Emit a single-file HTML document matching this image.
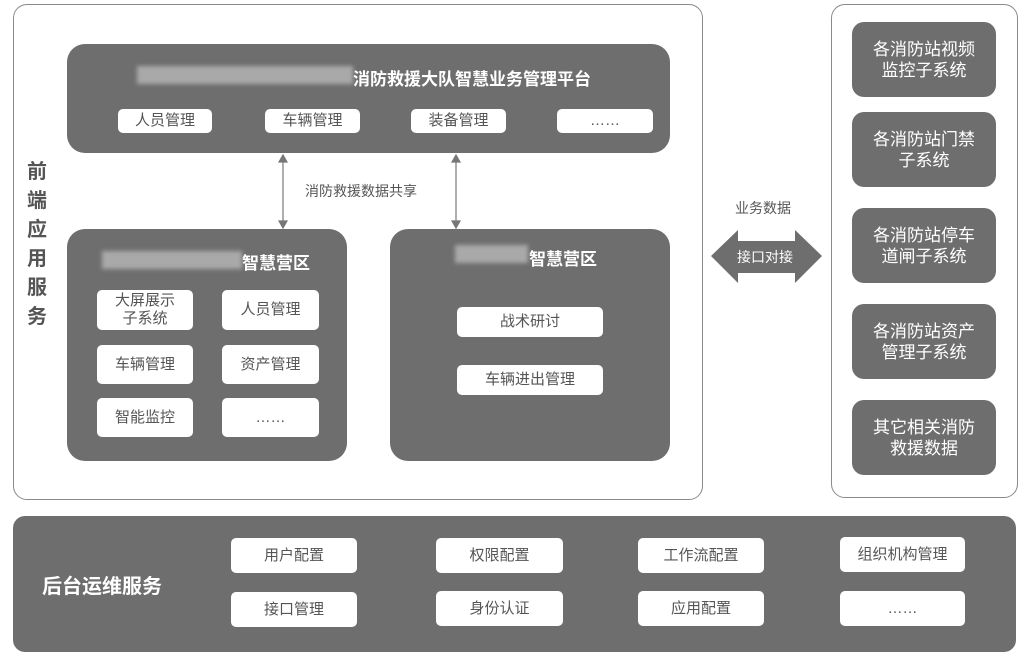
<!DOCTYPE html>
<html><head><meta charset="utf-8"><style>
body{margin:0;width:1027px;height:660px;background:#fff;position:relative;overflow:hidden;font-family:"Liberation Sans","Noto Sans CJK SC",sans-serif}
div{position:absolute;box-sizing:border-box}
.d{background:#6e6e6e;border-radius:18px}
.w{background:#fff;border-radius:5px;color:#555;font-size:15px;display:flex;align-items:center;justify-content:center;text-align:center;line-height:18px}
.t{color:#fff;font-weight:bold;font-size:17px;white-space:nowrap}
.blur{background:#b4b4b4;filter:blur(2px);opacity:.85}
.r{background:#6e6e6e;border-radius:12px;color:#fff;font-size:17px;display:flex;align-items:center;justify-content:center;text-align:center;line-height:21px}
</style></head><body>
<div style="left:13px;top:4px;width:690px;height:496px;border:1.2px solid #8a8a8a;border-radius:14px"></div>
<div style="left:831px;top:4px;width:187px;height:494px;border:1.2px solid #8a8a8a;border-radius:14px"></div>
<div style="left:26px;top:158px;width:22px;color:#555;font-weight:bold;font-size:20px;line-height:29px;text-align:center">前端应用服务</div>

<div class="d" style="left:67px;top:44px;width:603px;height:109px"></div>
<div class="blur" style="left:137px;top:66px;width:216px;height:18px"></div>
<div class="t" style="left:353px;top:65px">消防救援大队智慧业务管理平台</div>
<div class="w" style="left:118px;top:109px;width:94px;height:24px">人员管理</div>
<div class="w" style="left:265px;top:109px;width:95px;height:24px">车辆管理</div>
<div class="w" style="left:411px;top:109px;width:95px;height:24px">装备管理</div>
<div class="w" style="left:557px;top:109px;width:96px;height:24px">……</div>

<svg style="position:absolute;left:0;top:0" width="1027" height="660">
<g stroke="#777" stroke-width="1.2" fill="#777">
<line x1="283" y1="160" x2="283" y2="223"/><polygon points="279,162 287,162 283,155"/><polygon points="279,221 287,221 283,228"/>
<line x1="456" y1="160" x2="456" y2="223"/><polygon points="452,162 460,162 456,155"/><polygon points="452,221 460,221 456,228"/>
</g>
<polygon fill="#6e6e6e" points="711,256 738,230 738,241 795,241 795,230 822,256 795,283 795,273 738,273 738,283"/>
</svg>
<div style="left:305px;top:181px;color:#555;font-size:14px">消防救援数据共享</div>
<div style="left:735px;top:198px;color:#555;font-size:14px">业务数据</div>
<div style="left:737px;top:247px;color:#fff;font-size:14px">接口对接</div>

<div class="d" style="left:67px;top:229px;width:280px;height:232px"></div>
<div class="blur" style="left:102px;top:251px;width:140px;height:18px"></div>
<div class="t" style="left:242px;top:249px">智慧营区</div>
<div class="w" style="left:97px;top:290px;width:96px;height:40px">大屏展示<br>子系统</div>
<div class="w" style="left:222px;top:290px;width:97px;height:40px">人员管理</div>
<div class="w" style="left:97px;top:345px;width:96px;height:39px">车辆管理</div>
<div class="w" style="left:222px;top:345px;width:97px;height:39px">资产管理</div>
<div class="w" style="left:97px;top:398px;width:96px;height:39px">智能监控</div>
<div class="w" style="left:222px;top:398px;width:97px;height:39px">……</div>

<div class="d" style="left:390px;top:229px;width:280px;height:232px"></div>
<div class="blur" style="left:455px;top:245px;width:73px;height:18px"></div>
<div class="t" style="left:529px;top:245px">智慧营区</div>
<div class="w" style="left:457px;top:307px;width:146px;height:30px">战术研讨</div>
<div class="w" style="left:457px;top:365px;width:146px;height:30px">车辆进出管理</div>

<div class="r" style="left:852px;top:22px;width:144px;height:75px">各消防站视频<br>监控子系统</div>
<div class="r" style="left:852px;top:112px;width:144px;height:75px">各消防站门禁<br>子系统</div>
<div class="r" style="left:852px;top:208px;width:144px;height:75px">各消防站停车<br>道闸子系统</div>
<div class="r" style="left:852px;top:304px;width:144px;height:75px">各消防站资产<br>管理子系统</div>
<div class="r" style="left:852px;top:400px;width:144px;height:75px">其它相关消防<br>救援数据</div>

<div class="d" style="left:13px;top:516px;width:1003px;height:136px;border-radius:12px"></div>
<div class="t" style="left:42px;top:570px;font-size:20px">后台运维服务</div>
<div class="w" style="left:231px;top:538px;width:126px;height:35px">用户配置</div>
<div class="w" style="left:436px;top:538px;width:127px;height:35px">权限配置</div>
<div class="w" style="left:638px;top:538px;width:126px;height:35px">工作流配置</div>
<div class="w" style="left:840px;top:537px;width:125px;height:35px">组织机构管理</div>
<div class="w" style="left:231px;top:592px;width:126px;height:35px">接口管理</div>
<div class="w" style="left:436px;top:591px;width:127px;height:35px">身份认证</div>
<div class="w" style="left:638px;top:591px;width:126px;height:35px">应用配置</div>
<div class="w" style="left:840px;top:591px;width:125px;height:35px">……</div>
</body></html>
